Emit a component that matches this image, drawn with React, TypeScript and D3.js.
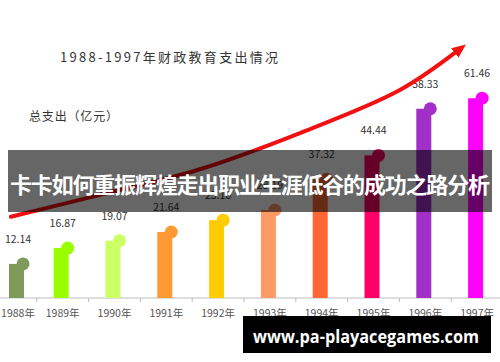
import React from 'react';
import * as d3 from 'd3';

const years = ['1988年', '1989年', '1990年', '1991年', '1992年', '1993年', '1994年', '1995年', '1996年', '1997年'];
const totals = [12.14, 16.87, 19.07, 21.64, 25.16, 28.19, 37.32, 44.44, 58.33, 61.46];
const barColors = ['#7f9a5a', '#99ff00', '#ccff66', '#ff9933', '#ffcc00', '#ff9966', '#ff6633', '#ff0066', '#a22fc8', '#ff00ff'];

// trend arrow, in (year, value) space
const trendYears = [1988.0, 1989.64, 1991.6, 1993.58, 1995.51, 1996.6];
const trendValues = [26.2, 32.4, 40.1, 51.1, 63.9, 75.3];

const WIDTH = 500;
const HEIGHT = 362;
const BASE_Y = 298;
const MIN_CENTER = 18; // keep the first group inside the picture

const FONT = '"Noto Sans CJK SC", "Noto Sans", sans-serif';

const App: React.FC = () => {
  const x = d3.scaleBand<string>().domain(years).range([-15, 503]);
  const y = d3.scaleLinear().domain([2, 66]).range([BASE_Y, BASE_Y - 64 * 3.36]);
  const xYear = d3.scaleLinear()
    .domain([1988, 1997])
    .range([x(years[0])! + x.bandwidth() / 2, x(years[9])! + x.bandwidth() / 2]);

  const center = (d: string) => Math.max(MIN_CENTER, x(d)! + x.bandwidth() / 2);

  const trend = d3.line<number>()
    .x((_, i) => xYear(trendYears[i]))
    .y(d => y(d))
    .curve(d3.curveCatmullRom)(trendValues);

  return (
    <svg width={WIDTH} height={HEIGHT} style={{ position: 'absolute', left: 0, top: 0, background: '#fff' }}>
      <defs>
        <marker id="arrow" viewBox="0 0 14 12" refX="2" refY="6" markerWidth="14" markerHeight="12"
          markerUnits="userSpaceOnUse" orient="auto">
          <path d="M0,0 L14,6 L0,12 Z" fill="#f21010" />
        </marker>
      </defs>
      <rect width={WIDTH} height={HEIGHT} fill="#fff" />

      <text x={60} y={62} fontFamily={FONT} fontSize={13} fill="#333" textLength={218} lengthAdjust="spacing">
        1988-1997年财政教育支出情况
      </text>
      <text x={29} y={121} fontFamily={FONT} fontSize={12} fill="#333" textLength={89} lengthAdjust="spacing">
        总支出（亿元）
      </text>

      {/* axis */}
      <line x1={0} x2={WIDTH} y1={BASE_Y} y2={BASE_Y} stroke="#bdbdbd" strokeWidth={1} />
      {years.slice(1).map(d => (
        <line key={'t' + d} x1={x(d)!} x2={x(d)!} y1={BASE_Y} y2={BASE_Y + 4} stroke="#bdbdbd" />
      ))}
      {years.map(d => (
        <text key={'l' + d} x={center(d)} y={317} textAnchor="middle" fontFamily={FONT} fontSize={10.5} fill="#555">
          {d}
        </text>
      ))}

      {/* bars with knobs */}
      {years.map((d, i) => {
        const c = center(d);
        const top = y(totals[i]);
        return (
          <g key={'b' + d}>
            <rect x={c - 9} y={top} width={15} height={BASE_Y - top} fill={barColors[i]} />
            <circle cx={c + 5} cy={top} r={6.5} fill={barColors[i]} />
            <text x={c} y={top - 21} textAnchor="middle" fontFamily={FONT} fontSize={10.5} fill="#333">
              {totals[i].toFixed(2)}
            </text>
          </g>
        );
      })}

      <path d={trend ?? ''} fill="none" stroke="#f21010" strokeWidth={4} strokeLinecap="round" markerEnd="url(#arrow)" />

      {/* overlay banners */}
      <rect x={8} y={150} width={484} height={62} fill="#000" fillOpacity={0.6} />
      <text x={10} y={193} fontFamily={FONT} fontSize={22} fontWeight="bold" fill="#fff" textLength={480} lengthAdjust="spacing">
        卡卡如何重振辉煌走出职业生涯低谷的成功之路分析
      </text>

      <rect x={243} y={316} width={248} height={37} fill="#000" />
      <text x={253} y={343} fontFamily='"Open Sans", sans-serif' fontSize={18} fontWeight="bold" fill="#fff" textLength={226} lengthAdjust="spacingAndGlyphs">
        www.pa-playacegames.com
      </text>
    </svg>
  );
};

export default App;
